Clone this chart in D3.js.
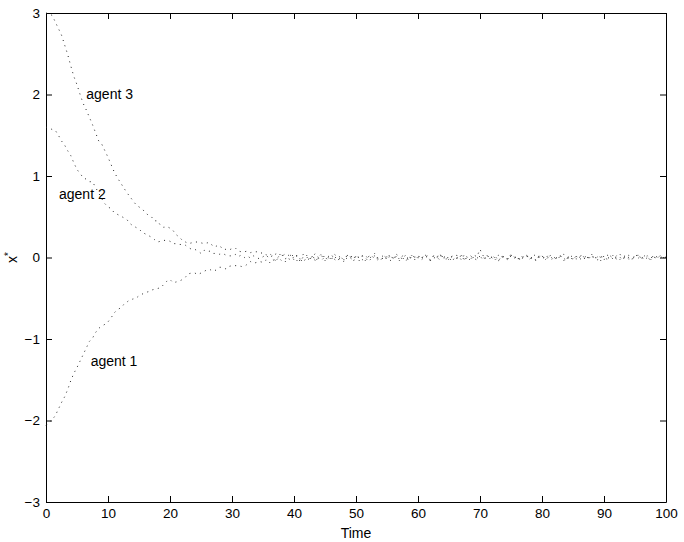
<!DOCTYPE html>
<html>
<head>
<meta charset="utf-8">
<script src="https://cdn.jsdelivr.net/npm/d3@7"></script>
<style>
  body { margin: 0; background: #fff; }
  svg { display: block; font-family: "Liberation Sans", Arial, Helvetica, sans-serif; }
</style>
</head>
<body>
<div id="chart"></div>
<script>
// sample step of the time axis
var step = 0.5;

// agent trajectories, one value per 0.5 time unit from t = 0 to t = 100
var agent1 = [
  -2.06, -2.02, -1.99, -1.94, -1.86, -1.78, -1.71, -1.62, -1.51, -1.42,
  -1.35, -1.27, -1.19, -1.11, -1.03, -0.99, -0.92, -0.87, -0.84, -0.82,
  -0.79, -0.74, -0.68, -0.64, -0.62, -0.58, -0.55, -0.52, -0.51, -0.50,
  -0.47, -0.45, -0.43, -0.42, -0.40, -0.39, -0.38, -0.37, -0.33, -0.29,
  -0.27, -0.31, -0.30, -0.29, -0.27, -0.24, -0.20, -0.19, -0.19, -0.21,
  -0.19, -0.17, -0.15, -0.15, -0.17, -0.15, -0.12, -0.12, -0.14, -0.11,
  -0.10, -0.10, -0.10, -0.11, -0.11, -0.08, -0.05, -0.07, -0.06, -0.05,
  -0.06,
  -0.03, -0.07, -0.02, -0.05, 0.00, -0.04, -0.06, -0.01, -0.03, 0.01,
  -0.04, -0.02, -0.06, 0.00, -0.03, 0.02, -0.05, -0.01, -0.03, 0.01,
  -0.04, 0.00, -0.02, -0.05, 0.01, -0.03, -0.01, 0.02, -0.04, -0.02,
  0.01, -0.03, 0.00, -0.05, -0.01, 0.02, -0.03, 0.00, -0.02, 0.01,
  -0.04, -0.01, 0.02, -0.02, 0.00, -0.05, 0.01, -0.02, 0.03, -0.01,
  -0.03, 0.00, 0.02, -0.04, -0.01, 0.01, -0.03, 0.02, -0.02, 0.00,
  -0.05, 0.01, -0.01, 0.03, -0.02, 0.00, -0.04, 0.01, -0.01, 0.02,
  -0.03, 0.00, -0.02, 0.02, -0.01, -0.04, 0.01, 0.00, -0.03, 0.02,
  -0.01, 0.01, -0.04, 0.00, 0.02, -0.02, 0.01, -0.03, 0.00, 0.03,
  -0.02, 0.00, -0.03, 0.01, -0.01, 0.02, -0.04, 0.00, 0.01, -0.02,
  0.02, -0.03, 0.00, 0.01, -0.02, 0.03, -0.01, -0.03, 0.01, 0.00,
  -0.02, 0.02, -0.01, 0.00, -0.03, 0.01, 0.02, -0.02, 0.00, 0.01,
  -0.01, 0.02, -0.03, 0.00, 0.01, -0.02, 0.01, 0.03, -0.01, 0.00
];

var agent2 = [
  1.60, 1.59, 1.57, 1.56, 1.50, 1.43, 1.38, 1.31, 1.25, 1.16,
  1.08, 1.03, 0.98, 0.96, 0.93, 0.93, 0.86, 0.79, 0.72, 0.66,
  0.62, 0.60, 0.55, 0.53, 0.51, 0.49, 0.47, 0.42, 0.39, 0.37,
  0.35, 0.31, 0.29, 0.27, 0.25, 0.22, 0.19, 0.20, 0.21, 0.21,
  0.20, 0.17, 0.17, 0.16, 0.16, 0.15, 0.12, 0.10, 0.10, 0.08,
  0.05, 0.09, 0.07, 0.08, 0.05, 0.05, 0.04, 0.05, 0.03, 0.02,
  0.02, 0.04, 0.01, 0.03, 0.00, 0.02, -0.01, 0.02, 0.00, -0.02,
  0.01,
  0.03, -0.01, 0.02, -0.04, 0.01, 0.04, -0.02, 0.00, 0.03, -0.03,
  0.02, -0.05, 0.01, 0.03, -0.02, 0.02, -0.04, 0.01, 0.05, -0.01,
  0.00, -0.03, 0.04, 0.01, -0.02, -0.05, 0.02, 0.00, -0.03, 0.03,
  -0.01, 0.02, -0.04, 0.01, 0.03, -0.02, 0.00, -0.03, 0.02, -0.01,
  0.04, -0.02, 0.01, -0.04, 0.02, 0.00, -0.01, 0.03, -0.03, 0.01,
  -0.02, 0.03, 0.00, -0.04, 0.02, -0.01, 0.04, -0.02, 0.01, -0.03,
  0.02, 0.00, -0.02, 0.03, -0.04, 0.01, 0.02, -0.01, -0.03, 0.02,
  0.00, -0.02, 0.03, -0.01, 0.01, -0.04, 0.02, 0.00, -0.02, 0.03,
  -0.01, 0.02, -0.03, 0.01, 0.03, -0.02, 0.00, -0.04, 0.02, 0.01,
  -0.02, 0.03, 0.00, -0.03, 0.01, 0.02, -0.01, -0.04, 0.03, 0.00,
  -0.02, 0.01, 0.03, -0.03, 0.00, 0.02, -0.02, 0.01, -0.04, 0.02,
  0.00, -0.01, 0.03, -0.02, 0.01, -0.03, 0.02, 0.00, -0.02, 0.01,
  0.03, -0.01, 0.00, 0.02, -0.03, 0.01, -0.02, 0.02, 0.00, -0.01
];

var agent3 = [
  3.00, 2.99, 2.97, 2.89, 2.81, 2.73, 2.61, 2.49, 2.35, 2.22,
  2.12, 2.00, 1.89, 1.81, 1.72, 1.63, 1.53, 1.43, 1.39, 1.31,
  1.23, 1.14, 1.05, 0.98, 0.92, 0.86, 0.80, 0.75, 0.70, 0.65,
  0.62, 0.60, 0.55, 0.52, 0.50, 0.45, 0.45, 0.39, 0.37, 0.38,
  0.36, 0.33, 0.28, 0.25, 0.21, 0.19, 0.17, 0.18, 0.19, 0.19,
  0.18, 0.17, 0.18, 0.18, 0.13, 0.14, 0.15, 0.10, 0.10, 0.09,
  0.11, 0.12, 0.08, 0.07, 0.07, 0.08, 0.06, 0.07, 0.07, 0.05,
  0.06, 0.03, 0.05, 0.02, 0.04, 0.06, 0.01, 0.04, 0.02, 0.05,
  0.00,
  0.03, -0.02, 0.04, 0.01, -0.03, 0.02, 0.05, -0.01, 0.02, -0.04,
  0.01, 0.04, -0.02, 0.03, 0.00, -0.03, 0.02, 0.04, -0.01, 0.01,
  -0.04, 0.02, 0.03, -0.02, 0.01, 0.05, -0.01, 0.00, 0.03, -0.03,
  0.02, -0.01, 0.04, 0.01, -0.02, 0.03, -0.04, 0.02, 0.00, 0.03,
  -0.02, 0.04, 0.01, -0.03, 0.02, 0.00, 0.05, -0.01, 0.03, -0.02,
  0.01, 0.03, 0.02, -0.03, 0.04, 0.00, -0.02, 0.03, 0.01, 0.10,
  0.02, 0.04, -0.01, 0.01, -0.03, 0.03, 0.00, 0.02, -0.02, 0.04,
  0.01, -0.03, 0.02, 0.00, 0.03, -0.02, 0.01, 0.04, -0.01, 0.02,
  -0.03, 0.01, 0.03, 0.00, -0.02, 0.02, 0.04, -0.01, 0.01, -0.03,
  0.02, 0.00, 0.03, -0.02, 0.01, 0.04, -0.01, 0.02, 0.00, -0.03,
  0.03, 0.01, -0.02, 0.02, 0.05, -0.01, 0.00, 0.03, -0.02, 0.01,
  0.04, -0.01, 0.02, 0.00, -0.03, 0.03, 0.01, -0.02, 0.02, 0.00
];

var xTicks = [0, 10, 20, 30, 40, 50, 60, 70, 80, 90, 100];
var yTicks = [-3, -2, -1, 0, 1, 2, 3];

// text labels sitting next to each curve: [text, time, value]
var agentLabels = [
  ['agent 3', 6.5, 1.95],
  ['agent 2', 2.1, 0.72],
  ['agent 1', 7.2, -1.33]
];

var width = 684, height = 542;
var margin = {top: 13, right: 18, bottom: 40, left: 46};

var svg = d3.select('#chart').append('svg')
  .attr('width', width)
  .attr('height', height);

svg.append('rect').attr('width', width).attr('height', height).attr('fill', '#fff');

var x = d3.scaleLinear().domain([0, 100]).range([margin.left, width - margin.right]);
var y = d3.scaleLinear().domain([-3, 3]).range([height - margin.bottom, margin.top]);

var fmt = function (d) { return d < 0 ? '\u2212' + Math.abs(d) : '' + d; };

// axes, ticks pointing inwards on all four sides like matlab
var axes = svg.append('g').attr('class', 'axes');
axes.append('g')
  .attr('transform', 'translate(0,' + y(-3) + ')')
  .call(d3.axisBottom(x).tickValues(xTicks).tickSizeInner(-6).tickSizeOuter(0).tickPadding(6).tickFormat(fmt));
axes.append('g')
  .attr('transform', 'translate(0,' + y(3) + ')')
  .call(d3.axisTop(x).tickValues(xTicks).tickSizeInner(-6).tickSizeOuter(0).tickFormat(''));
axes.append('g')
  .attr('transform', 'translate(' + x(0) + ',0)')
  .call(d3.axisLeft(y).tickValues(yTicks).tickSizeInner(-6).tickSizeOuter(0).tickPadding(6).tickFormat(fmt));
axes.append('g')
  .attr('transform', 'translate(' + x(100) + ',0)')
  .call(d3.axisRight(y).tickValues(yTicks).tickSizeInner(-6).tickSizeOuter(0).tickFormat(''));

axes.selectAll('.domain').attr('stroke', '#000');
axes.selectAll('.tick line').attr('stroke', '#000');
axes.selectAll('.tick text')
  .attr('font-size', 13.5)
  .attr('font-family', '"Liberation Sans", Arial, sans-serif')
  .attr('fill', '#000');

// dotted trajectories
var line = d3.line()
  .x(function (d, i) { return x(i * step); })
  .y(function (d) { return y(d); });

svg.append('g').selectAll('path')
  .data([agent1, agent2, agent3])
  .join('path')
  .attr('d', line)
  .attr('fill', 'none')
  .attr('stroke', '#222')
  .attr('stroke-width', 1)
  .attr('stroke-dasharray', '1 4.6');

svg.append('g').selectAll('text')
  .data(agentLabels)
  .join('text')
  .attr('x', function (d) { return x(d[1]); })
  .attr('y', function (d) { return y(d[2]); })
  .attr('font-size', 14)
  .attr('fill', '#000')
  .text(function (d) { return d[0]; });

// axis titles
svg.append('text')
  .attr('x', (x(0) + x(100)) / 2)
  .attr('y', height - 4)
  .attr('text-anchor', 'middle')
  .attr('font-size', 14)
  .text('Time');

var yl = svg.append('text')
  .attr('transform', 'translate(17,' + y(0) + ') rotate(-90)')
  .attr('text-anchor', 'middle')
  .attr('font-size', 14);
yl.append('tspan').text('x');
yl.append('tspan').attr('dy', -5).attr('font-size', 10).text('*');
</script>
</body>
</html>
